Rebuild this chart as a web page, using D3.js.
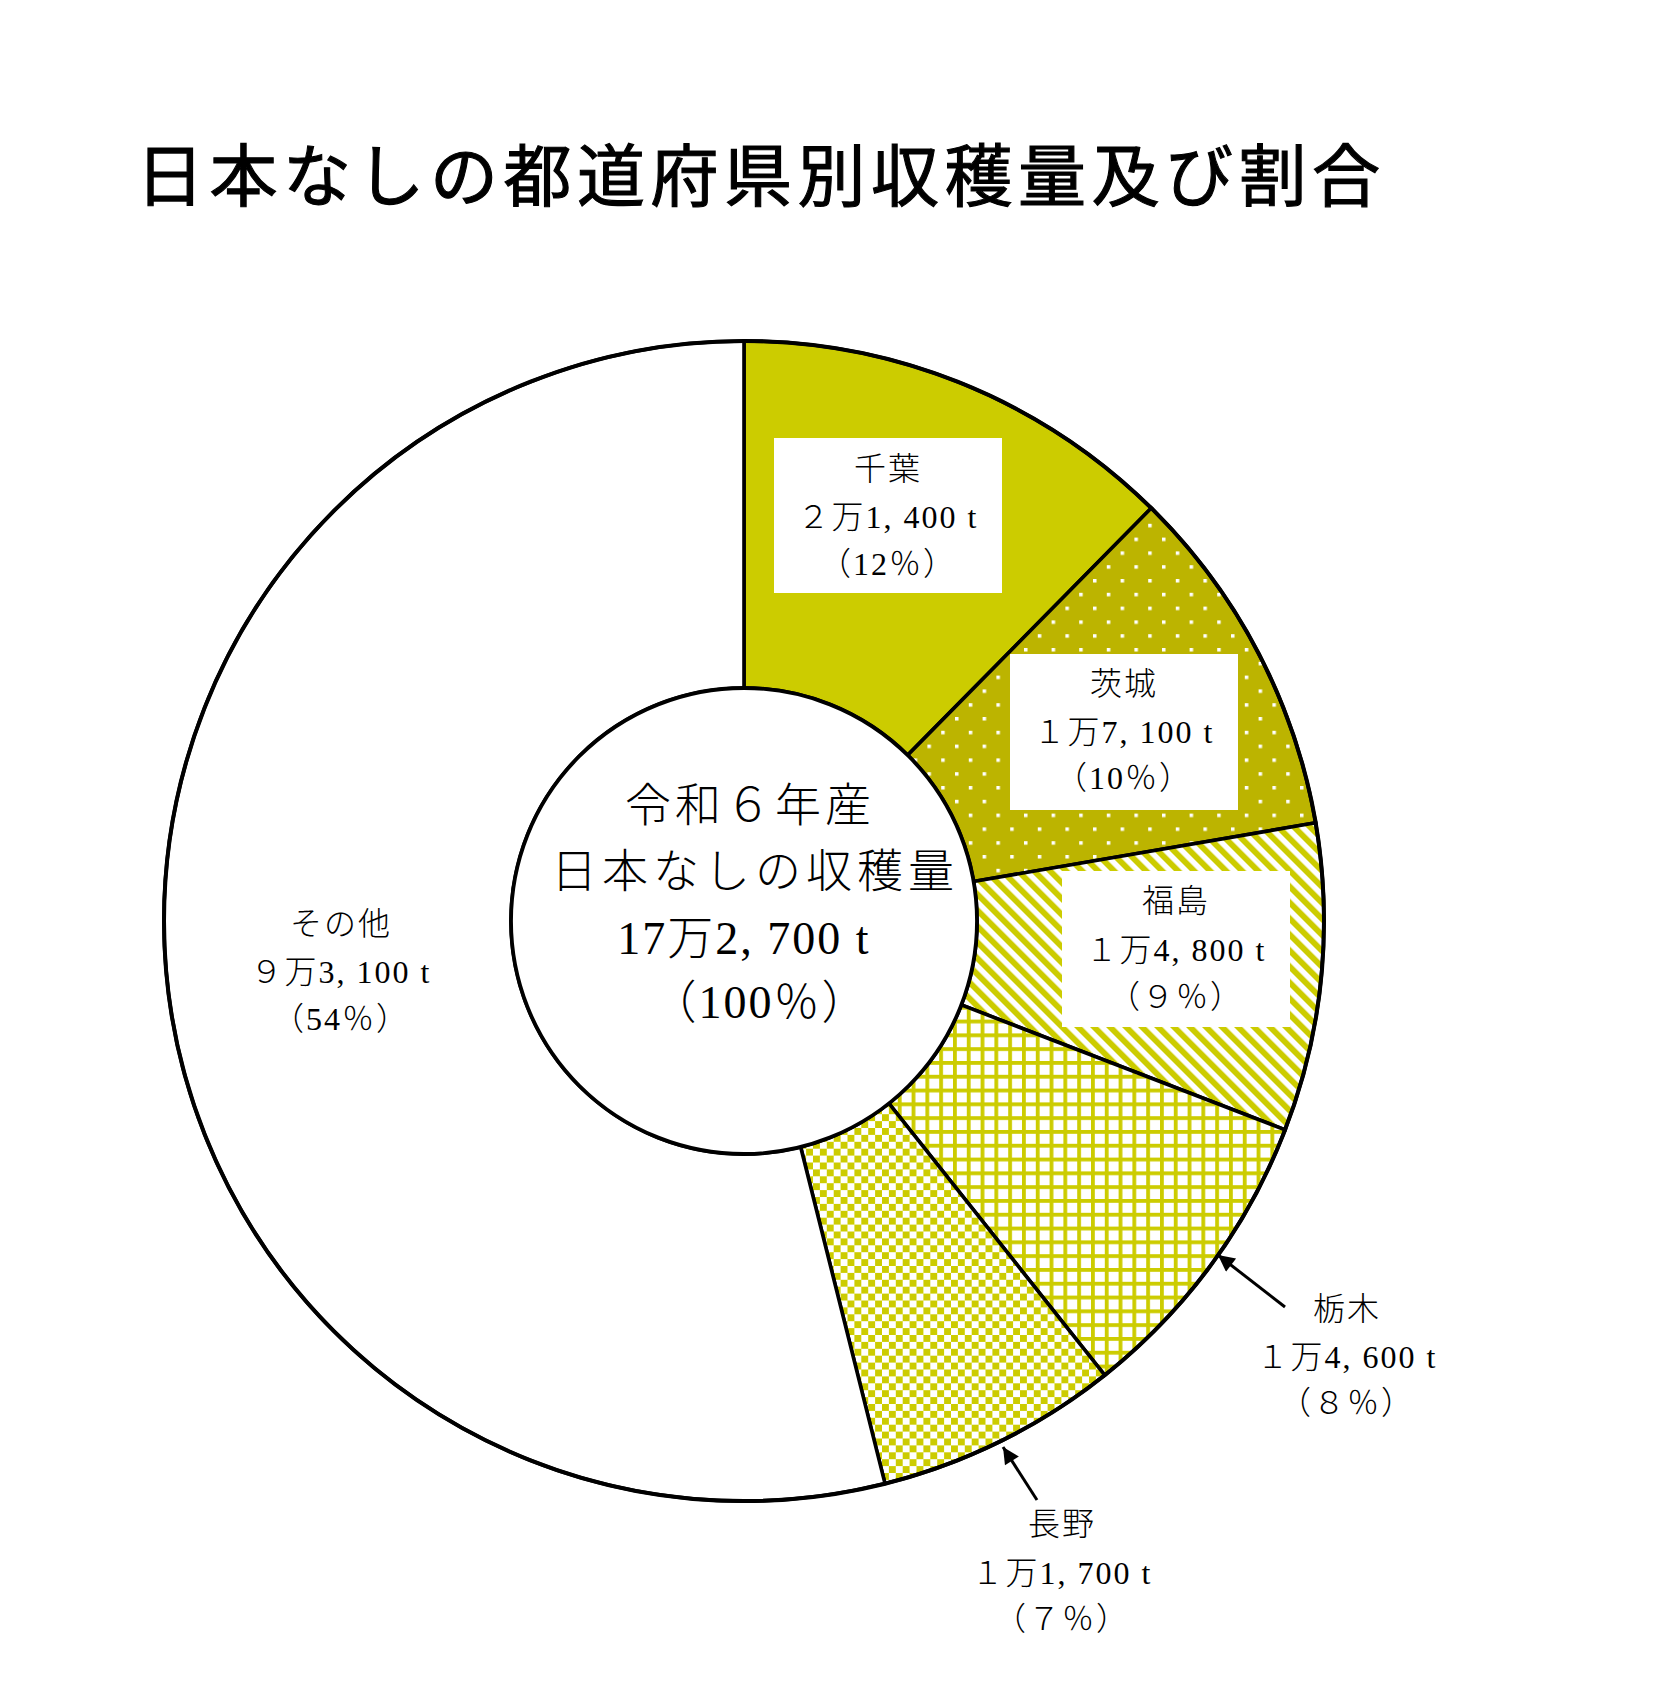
<!DOCTYPE html>
<html><head><meta charset="utf-8">
<script src="https://cdn.jsdelivr.net/npm/d3@7/dist/d3.min.js"></script>
<style>body{margin:0;background:#fff}</style>
</head><body>
<svg id="c" width="1660" height="1690"></svg>
<script>
// ---- data ----
const title = "日本なしの都道府県別収穫量及び割合";
const prefectures = ["千葉", "茨城", "福島", "栃木", "長野", "その他"];
const harvest = [21400, 17100, 14800, 14600, 11700, 93100];
const amountLabels = ["２万1, 400 t", "１万7, 100 t", "１万4, 800 t", "１万4, 600 t", "１万1, 700 t", "９万3, 100 t"];
const shareLabels = ["（12％）", "（10％）", "（９％）", "（８％）", "（７％）", "（54％）"];
const centerLines = ["令和６年産", "日本なしの収穫量", "17万2, 700 t", "（100％）"];

// ---- layout / style ----
const fills = ["solid", "dots", "stripes", "grid", "checker", "none"];
const labelLayout = [
  {x: 888, y: [469, 517, 564], box: [774, 438, 228, 155]},
  {x: 1124, y: [684, 732, 778], box: [1010, 654, 228, 156]},
  {x: 1176, y: [901, 950, 997], box: [1062, 871, 228, 156]},
  {x: 1347, y: [1309, 1357, 1403], arrow: [[1285, 1307], [1218, 1255]]},
  {x: 1062, y: [1524, 1573, 1619], arrow: [[1037, 1500], [1003, 1447]]},
  {x: 341, y: [924, 972, 1019]}
];
const cx = 744, cy = 921, R = 580, r0 = 233;
const YEL = "#CCCC00", OLV = "#BCB400";
const labelFont = "'Liberation Serif','Noto Sans CJK JP',serif";

const svg = d3.select("#c");
const defs = svg.append("defs");
const P = 13.8;

// dots
let p = defs.append("pattern").attr("id", "dots").attr("patternUnits", "userSpaceOnUse")
  .attr("width", 2 * P).attr("height", 2 * P).attr("x", 4).attr("y", 3);
p.append("rect").attr("width", 2 * P).attr("height", 2 * P).attr("fill", OLV);
p.append("rect").attr("x", 0).attr("y", 0).attr("width", 3.5).attr("height", 3.5).attr("fill", "#fff");
p.append("rect").attr("x", P).attr("y", P).attr("width", 3.5).attr("height", 3.5).attr("fill", "#fff");

// stripes
const sp = 16 / Math.SQRT2;
p = defs.append("pattern").attr("id", "stripes").attr("patternUnits", "userSpaceOnUse")
  .attr("width", sp).attr("height", sp).attr("patternTransform", "rotate(-45)");
p.append("rect").attr("width", sp).attr("height", sp).attr("fill", "#fff");
p.append("rect").attr("width", sp * 0.52).attr("height", sp).attr("fill", YEL);

// grid
p = defs.append("pattern").attr("id", "grid").attr("patternUnits", "userSpaceOnUse")
  .attr("width", P).attr("height", P).attr("x", 2).attr("y", 2);
p.append("rect").attr("width", P).attr("height", P).attr("fill", "#fff");
p.append("rect").attr("width", 3.8).attr("height", P).attr("fill", YEL);
p.append("rect").attr("width", P).attr("height", 3.8).attr("fill", YEL);

// checker
p = defs.append("pattern").attr("id", "checker").attr("patternUnits", "userSpaceOnUse")
  .attr("width", P).attr("height", P);
p.append("rect").attr("width", P).attr("height", P).attr("fill", "#fff");
p.append("rect").attr("width", P / 2).attr("height", P / 2).attr("fill", YEL);
p.append("rect").attr("x", P / 2).attr("y", P / 2).attr("width", P / 2).attr("height", P / 2).attr("fill", YEL);

// arrow marker
defs.append("marker").attr("id", "arr").attr("viewBox", "0 0 10 10")
  .attr("refX", 10).attr("refY", 5).attr("markerWidth", 7).attr("markerHeight", 5.5)
  .attr("markerUnits", "strokeWidth").attr("orient", "auto")
  .append("path").attr("d", "M0,0 L10,5 L0,10 Z").attr("fill", "#000");

function fillOf(t) {
  if (t === "solid") return YEL;
  if (t === "none") return "#fff";
  return "url(#" + t + ")";
}

// title
svg.append("text").attr("x", 136).attr("y", 171)
  .attr("dominant-baseline", "central")
  .attr("font-family", "'Noto Sans CJK JP',sans-serif")
  .attr("font-size", 68).attr("font-weight", 400)
  .attr("letter-spacing", 5.5)
  .attr("stroke", "#000").attr("stroke-width", 1.1)
  .text(title);

// pie
const pie = d3.pie().sort(null).value(d => d);
const arcs = pie(harvest);
const arc = d3.arc().innerRadius(r0).outerRadius(R);
const g = svg.append("g").attr("transform", `translate(${cx},${cy})`);
g.selectAll("path.s").data(arcs).join("path").attr("class", "s")
  .attr("d", arc)
  .attr("fill", (d, i) => fillOf(fills[i]))
  .attr("stroke", "#000").attr("stroke-width", 3.6).attr("stroke-linejoin", "miter");
g.append("circle").attr("r", R).attr("fill", "none").attr("stroke", "#000").attr("stroke-width", 4);
g.append("circle").attr("r", r0).attr("fill", "#fff").attr("stroke", "#000").attr("stroke-width", 3.8);

// center text
const centerY = [805, 871, 938, 1002];
const centerDX = [6, 11, 0, 16];
const centerLS = [4, 5, 2, 2];
centerLines.forEach((t, i) => {
  svg.append("text").attr("x", cx + centerDX[i]).attr("y", centerY[i])
    .attr("text-anchor", "middle").attr("dominant-baseline", "central")
    .attr("font-family", labelFont).attr("font-size", 46).attr("font-weight", 300)
    .attr("letter-spacing", centerLS[i])
    .text(t);
});

// labels
prefectures.forEach((name, i) => {
  const L = labelLayout[i];
  if (L.box) {
    svg.append("rect").attr("x", L.box[0]).attr("y", L.box[1])
      .attr("width", L.box[2]).attr("height", L.box[3]).attr("fill", "#fff");
  }
  if (L.arrow) {
    svg.append("line").attr("x1", L.arrow[0][0]).attr("y1", L.arrow[0][1])
      .attr("x2", L.arrow[1][0]).attr("y2", L.arrow[1][1])
      .attr("stroke", "#000").attr("stroke-width", 3).attr("marker-end", "url(#arr)");
  }
  [name, amountLabels[i], shareLabels[i]].forEach((t, j) => {
    svg.append("text").attr("x", L.x).attr("y", L.y[j])
      .attr("text-anchor", "middle").attr("dominant-baseline", "central")
      .attr("font-family", labelFont).attr("font-size", 32).attr("font-weight", 300)
      .attr("letter-spacing", 2)
      .text(t);
  });
});
</script>
</body></html>
